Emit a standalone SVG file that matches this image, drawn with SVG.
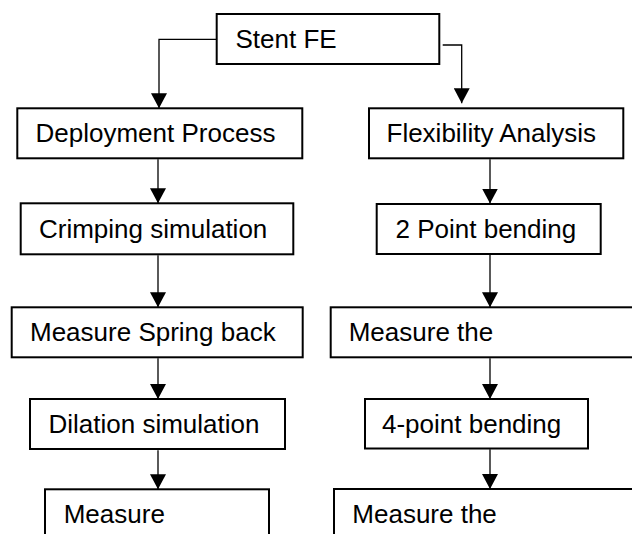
<svg xmlns="http://www.w3.org/2000/svg" width="632" height="534" viewBox="0 0 632 534">
<style>
.box{fill:#fff;stroke:#000;stroke-width:2}
.lbl{font-family:"Liberation Sans",Arial,sans-serif;font-size:26px;fill:#000}
.con{fill:none;stroke:#000;stroke-width:1.3}
</style>
<defs>
<marker id="ah" markerUnits="userSpaceOnUse" markerWidth="16" markerHeight="16" refX="15" refY="8" orient="auto">
<path d="M0,0 L15,8 L0,16 z" fill="#000"/>
</marker>
</defs>
<rect width="632" height="534" fill="#fff"/>
<g id="connectors">
<path class="con" d="M216.7,39.3 H159 V108.3" marker-end="url(#ah)"/>
<path class="con" d="M442.7,45 H461.7 V103.3" marker-end="url(#ah)"/>
<path class="con" d="M158,159.3 V203.3" marker-end="url(#ah)"/>
<path class="con" d="M158,255.3 V307.3" marker-end="url(#ah)"/>
<path class="con" d="M158,358.3 V399" marker-end="url(#ah)"/>
<path class="con" d="M158,450.3 V489.3" marker-end="url(#ah)"/>
<path class="con" d="M490,159.3 V203.5" marker-end="url(#ah)"/>
<path class="con" d="M490,255 V307.3" marker-end="url(#ah)"/>
<path class="con" d="M490,358.3 V399" marker-end="url(#ah)"/>
<path class="con" d="M490,449.3 V489" marker-end="url(#ah)"/>
</g>
<g id="stent"><rect class="box" x="216.7" y="14" width="222.6" height="50"/><text class="lbl" x="235.5" y="48.3">Stent FE</text></g>
<g id="deploy"><rect class="box" x="17.3" y="108.3" width="285" height="50"/><text class="lbl" x="35.5" y="141.7">Deployment Process</text></g>
<g id="flex"><rect class="box" x="369" y="108.3" width="254.3" height="50"/><text class="lbl" x="386.5" y="141.7">Flexibility Analysis</text></g>
<g id="crimp"><rect class="box" x="20.7" y="203.3" width="272.6" height="51"/><text class="lbl" x="39" y="238.3">Crimping simulation</text></g>
<g id="twopoint"><rect class="box" x="376.7" y="204" width="224" height="50"/><text class="lbl" x="395.5" y="238.3">2 Point bending</text></g>
<g id="springback"><rect class="box" x="11.7" y="307.3" width="291" height="50"/><text class="lbl" x="30" y="340.7">Measure Spring back</text></g>
<g id="measure1"><rect class="box" x="330.7" y="307.3" width="320" height="50"/><text class="lbl" x="348.7" y="340.7">Measure the</text></g>
<g id="dilation"><rect class="box" x="30" y="399" width="255" height="50"/><text class="lbl" x="48.5" y="433">Dilation simulation</text></g>
<g id="fourpoint"><rect class="box" x="365" y="399" width="223" height="49.5"/><text class="lbl" x="382" y="433">4-point bending</text></g>
<g id="measure2"><rect class="box" x="45" y="489.3" width="224" height="50"/><text class="lbl" x="63.7" y="523.3">Measure</text></g>
<g id="measure3"><rect class="box" x="334" y="489" width="320" height="50"/><text class="lbl" x="352.3" y="523">Measure the</text></g>
</svg>
